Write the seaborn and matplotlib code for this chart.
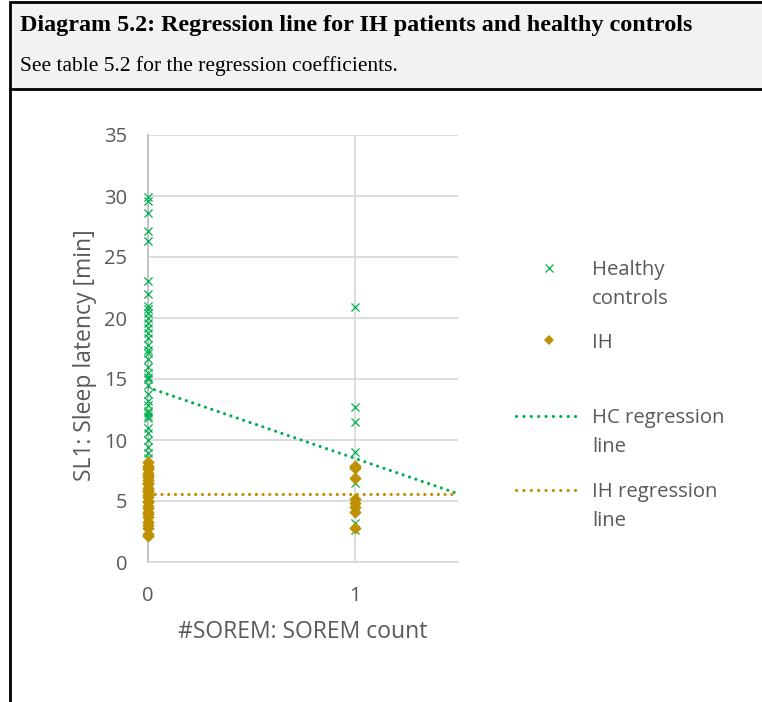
import matplotlib
matplotlib.use("Agg")
import matplotlib.pyplot as plt
from matplotlib.lines import Line2D
from matplotlib.patches import Rectangle
import pandas as pd
import seaborn as sns

# ----------------------------
# Data
# ----------------------------
# sleep latency SL1 [min] of healthy controls, #SOREM = 0 and = 1
hc_sorem0_sl = [29.9, 29.6, 28.6, 27.1, 26.3, 23.0, 22.0, 21.0, 20.7, 20.4,
                20.0, 19.6, 19.2, 18.8, 18.4, 17.8, 17.4, 17.1, 16.6, 16.0,
                15.5, 15.2, 15.0, 14.5, 13.8, 13.2, 12.9, 12.4, 12.2, 12.0,
                11.8, 11.0, 10.6, 10.0, 9.4, 8.9, 8.5, 7.8, 7.5, 6.8,
                5.9, 5.7, 4.3, 4.0, 3.1]
hc_sorem1_sl = [20.9, 12.7, 11.5, 9.0, 6.5, 3.2, 2.6]

# sleep latency SL1 [min] of IH patients
ih_sorem0_sl = [8.2, 7.9, 7.8, 7.6, 7.3, 7.1, 7.0, 6.7, 6.5, 6.4,
                6.1, 5.9, 5.7, 5.5, 5.3, 5.0, 4.9, 4.6, 4.4, 4.1,
                3.9, 3.7, 3.3, 3.0, 2.8, 2.3, 2.1]
ih_sorem1_sl = [7.9, 7.7, 6.9, 5.2, 4.8, 4.5, 4.1, 2.8]

# regression lines (end points at #SOREM = 0 and 1.5)
line_sorem = [0, 1.5]
hc_line_sl = [14.3, 5.6]
ih_line_sl = [5.55, 5.55]

GREEN = "#00b050"
GOLD = "#bf9000"
GREY_TEXT = "#595959"
W, H = 762, 702


def fpos(x, y):
    # pixel position -> figure fraction
    return x / W, 1 - y / H


hc = pd.DataFrame({"sorem": [0] * len(hc_sorem0_sl) + [1] * len(hc_sorem1_sl),
                   "sl": hc_sorem0_sl + hc_sorem1_sl})
ih = pd.DataFrame({"sorem": [0] * len(ih_sorem0_sl) + [1] * len(ih_sorem1_sl),
                   "sl": ih_sorem0_sl + ih_sorem1_sl})

sns.set_style("white")
plt.rcParams["font.family"] = ["Open Sans", "DejaVu Sans"]

fig = plt.figure(figsize=(W / 100, H / 100), dpi=100)
fig.patch.set_facecolor("white")

# ----------------------------
# Caption box
# ----------------------------
fig.add_artist(Rectangle(fpos(10, 89), 1.0, 87 / H, transform=fig.transFigure,
                         facecolor="#f2f2f2", edgecolor="black", lw=2))
fig.add_artist(Line2D([10 / W, 10 / W], [0, 1 - 89 / H], transform=fig.transFigure,
                      color="black", lw=2))
fig.text(*fpos(20, 26), "Diagram 5.2: Regression line for IH patients and healthy controls",
         family="Liberation Serif", weight="bold", size=17.4, va="center", color="black")
fig.text(*fpos(20, 66), "See table 5.2 for the regression coefficients.",
         family="Liberation Serif", size=15.5, va="center", color="black")

# ----------------------------
# Chart
# ----------------------------
ax = fig.add_axes([148 / W, 140 / H, 310 / W, 427 / H])

sns.scatterplot(data=hc, x="sorem", y="sl", marker="x", color=GREEN, s=34,
                linewidth=0.9, ax=ax, zorder=3, clip_on=False)
sns.scatterplot(data=ih, x="sorem", y="sl", marker="D", color=GOLD, s=40,
                linewidth=0, ax=ax, zorder=4, clip_on=False)
sns.lineplot(x=line_sorem, y=hc_line_sl, color=GREEN, lw=2.3,
             linestyle=(0, (0.01, 2.1)), dash_capstyle="round", ax=ax, zorder=5)
sns.lineplot(x=line_sorem, y=ih_line_sl, color=GOLD, lw=2.3,
             linestyle=(0, (0.01, 2.1)), dash_capstyle="round", ax=ax, zorder=5)

ax.set_xlim(0, 1.5)
ax.set_ylim(0, 35)
ax.set_xticks([0, 1])
ax.set_yticks(range(0, 36, 5))
ax.grid(True, color="#d9d9d9", lw=1.3)
ax.set_axisbelow(True)
for side in ["top", "right"]:
    ax.spines[side].set_visible(False)
ax.spines["left"].set_color("#bfbfbf")
ax.spines["left"].set_linewidth(1.3)
ax.spines["bottom"].set_color("#d9d9d9")
ax.spines["bottom"].set_linewidth(1.3)
ax.tick_params(length=0, labelsize=14.5, labelcolor=GREY_TEXT)
ax.tick_params(axis="y", pad=15)
ax.tick_params(axis="x", pad=17)

ax.set_ylabel("SL1: Sleep latency [min]", fontsize=16.5, color=GREY_TEXT)
ax.set_xlabel("#SOREM: SOREM count", fontsize=16.5, color=GREY_TEXT)
ax.yaxis.set_label_coords(-0.163, 0.485)
ax.xaxis.set_label_coords(0.5, -0.137)

# ----------------------------
# Legend (handles aligned with first label line)
# ----------------------------
fig.add_artist(Line2D([549 / W], [1 - 268 / H], transform=fig.transFigure,
                      marker="x", color=GREEN, ms=5.5, mew=0.9, ls="none"))
fig.add_artist(Line2D([549 / W], [1 - 340 / H], transform=fig.transFigure,
                      marker="D", color=GOLD, ms=4.8, mew=0, ls="none"))
for y, c in [(416, GREEN), (490, GOLD)]:
    fig.add_artist(Line2D([516 / W, 580 / W], [1 - y / H] * 2, transform=fig.transFigure,
                          color=c, lw=2.3, linestyle=(0, (0.01, 2.3)),
                          dash_capstyle="round"))

legend_lines = [("Healthy", 275), ("controls", 304), ("IH", 348),
                ("HC regression", 423), ("line", 452),
                ("IH regression", 497), ("line", 526)]
for txt, y in legend_lines:
    fig.text(*fpos(592, y), txt, fontsize=14.6, color=GREY_TEXT, va="baseline")

fig.savefig("out.png", dpi=100)
